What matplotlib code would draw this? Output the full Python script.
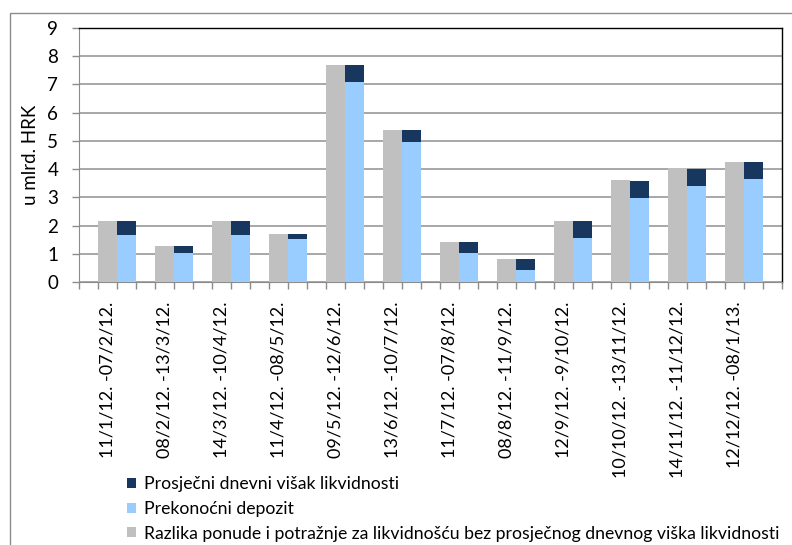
import matplotlib
matplotlib.use("Agg")
import matplotlib.pyplot as plt
from matplotlib.patches import Rectangle
import numpy as np

plt.rcParams['font.family'] = ['Lato', 'DejaVu Sans']

categories = ["11/1/12. -07/2/12.", "08/2/12. -13/3/12.", "14/3/12. -10/4/12.",
              "11/4/12. -08/5/12.", "09/5/12. -12/6/12.", "13/6/12. -10/7/12.",
              "11/7/12. -07/8/12.", "08/8/12. -11/9/12.", "12/9/12. -9/10/12.",
              "10/10/12. -13/11/12.", "14/11/12. -11/12/12.", "12/12/12. -08/1/13."]
razlika = [2.17, 1.29, 2.17, 1.71, 7.70, 5.40, 1.43, 0.83, 2.17, 3.63, 4.03, 4.26]
prekonocni = [1.68, 1.04, 1.68, 1.53, 7.10, 4.97, 1.04, 0.44, 1.57, 2.99, 3.41, 3.66]
visak = [0.49, 0.25, 0.49, 0.18, 0.60, 0.43, 0.39, 0.39, 0.60, 0.60, 0.61, 0.60]

labels = ["Prosječni dnevni višak likvidnosti",
          "Prekonoćni depozit",
          "Razlika ponude i potražnje za likvidnošću bez prosječnog dnevnog viška likvidnosti"]

c_gray = '#C0C0C0'
c_blue = '#99CCFF'
c_navy = '#17375E'

W, H = 792, 545
fig = plt.figure(figsize=(W / 100, H / 100), dpi=100)

# outer frame
fig.patches.append(Rectangle((10 / W, -0.05), 1.2, 1 - 13 / H + 0.05, transform=fig.transFigure,
                             fill=False, edgecolor='#8c8c8c', linewidth=1.0))

ax = fig.add_axes([79 / W, 1 - 282 / H, 703 / W, 254 / H])

n = len(categories)
idx = np.arange(n)
xg = 1.5 + 3 * idx
xs = 2.5 + 3 * idx

b_gray = ax.bar(xg, razlika, width=1.0, color=c_gray, zorder=3)
b_blue = ax.bar(xs, prekonocni, width=1.0, color=c_blue, zorder=3)
b_navy = ax.bar(xs, visak, width=1.0, bottom=prekonocni, color=c_navy, zorder=3)

ax.set_xlim(0, 3 * n + 1)
ax.set_ylim(0, 9)
ax.set_yticks(range(0, 10))
ax.yaxis.grid(True, color='#a0a0a0', linewidth=1.3, zorder=0)
ax.set_axisbelow(True)

ax.set_xticks(np.arange(0, 3 * n + 2), minor=True)
ax.set_xticks(xg)
ax.set_xticklabels(categories, rotation=90, fontsize=13)
ax.tick_params(axis='x', which='major', length=0, pad=14)
ax.tick_params(axis='x', which='minor', length=5, color='#8c8c8c', width=1)
ax.tick_params(axis='y', length=5, color='#8c8c8c', width=1, labelsize=13.5, pad=10)

for s in ['left', 'bottom']:
    ax.spines[s].set_color('#8c8c8c')
for s in ['top', 'right']:
    ax.spines[s].set_color('#000000')
    ax.spines[s].set_linewidth(1.0)

ax.set_ylabel("u mlrd. HRK", fontsize=13.5, labelpad=6)

fig.legend([b_navy, b_blue, b_gray], labels, loc='upper left',
           bbox_to_anchor=(127 / W, 1 - 476 / H), frameon=False, fontsize=12.7,
           handlelength=0.5, handleheight=0.5, handletextpad=0.45,
           labelspacing=0.5, borderpad=0, borderaxespad=0)

fig.savefig("out.png", dpi=100)
